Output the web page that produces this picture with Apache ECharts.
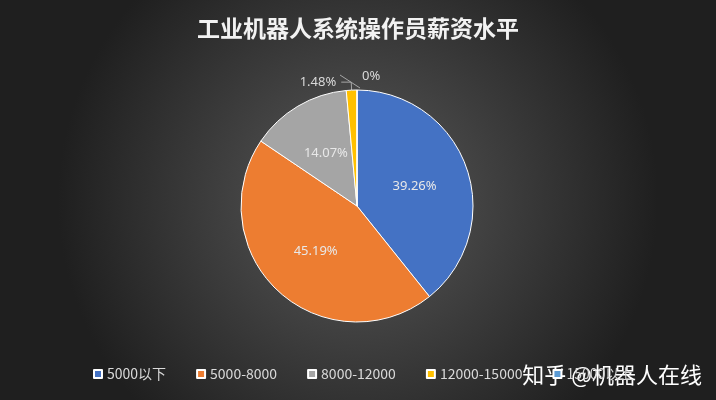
<!DOCTYPE html><html><head><meta charset="utf-8"><script src="https://cdn.jsdelivr.net/npm/echarts@6/dist/echarts.min.js"></script>
<style>html,body{margin:0;padding:0;}#c{width:716px;height:400px;}</style></head><body><div id="c"></div><script>
const categories=['5000以下','5000-8000','8000-12000','12000-15000','15000以上'];
const values=[39.26,45.19,14.07,1.48,0];
const colors=['#4472c4','#ed7d31','#a5a5a5','#ffc000','#5b9bd5'];
const chart=echarts.init(document.getElementById('c'));
const data=categories.map((n,i)=>{
  const small=i>=3;
  return {name:n,value:values[i],itemStyle:{color:colors[i]},
    label:small?{position:'outside',color:'#d9d9d9'}:{position:'inner',color:'#e8e8e8'},
    labelLine:{show:small,lineStyle:{color:'#a6a6a6'},length:8,length2:10}};
});
chart.setOption({
  backgroundColor:{type:'radial',x:0.5,y:0.5,r:0.75,colorStops:[{offset:0,color:'#5a5a5a'},{offset:1,color:'#1f1f1f'}]},
  title:{text:'工业机器人系统操作员薪资水平',left:'center',top:12,textStyle:{color:'#f2f2f2',fontSize:23,fontWeight:'bold',fontFamily:'Noto Sans CJK SC',letterSpacing:3}},
  legend:{bottom:14,left:88,itemWidth:8,itemHeight:8,itemGap:30,icon:'rect',textStyle:{color:'#d9d9d9',fontSize:14,fontFamily:'Noto Sans CJK SC'}},
  graphic:[{type:'text',right:14,bottom:14,style:{text:'知乎 @机器人在线',fill:'#ffffff',font:'22px "Noto Sans CJK SC"'}},
    {type:'text',left:362,top:70,style:{text:values[4]+'%',fill:'#d9d9d9',font:'13px "Noto Sans"'}},
    {type:'line',shape:{x1:340,y1:75,x2:360,y2:88},style:{stroke:'#a6a6a6',lineWidth:1}}],
  series:[{type:'pie',center:[357,206],radius:[0,116],startAngle:90,clockwise:true,minShowLabelAngle:0,avoidLabelOverlap:false,
    stillShowZeroSum:true,
    label:{formatter:p=>p.value+'%',fontSize:13,fontFamily:'Noto Sans'},
    itemStyle:{borderColor:'#ffffff',borderWidth:1},
    data:data}]
});
</script></body></html>
